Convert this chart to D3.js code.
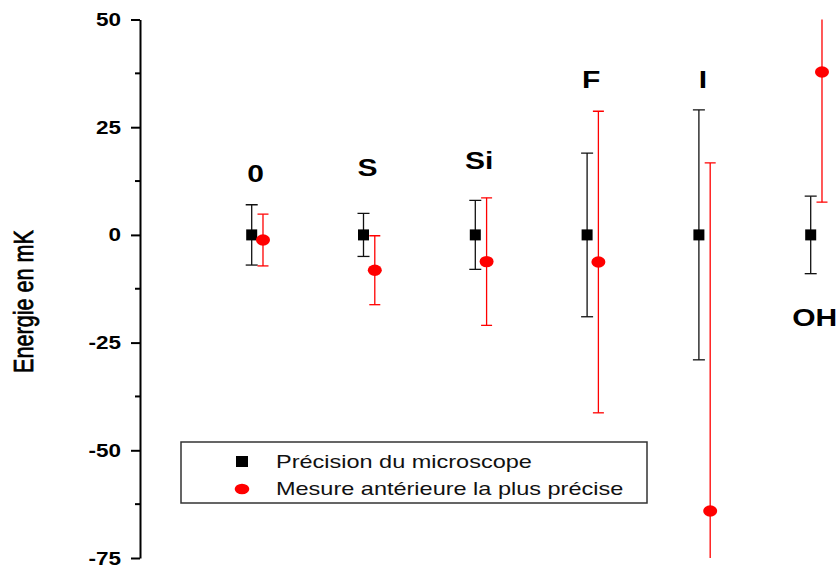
<!DOCTYPE html>
<html><head><meta charset="utf-8">
<script src="https://cdn.jsdelivr.net/npm/d3@7/dist/d3.min.js"></script>
<style>body{margin:0;background:#fff}svg{display:block}text{font-family:Arial,"Liberation Sans",sans-serif}</style>
</head><body>
<svg id="c" width="837" height="567"></svg>
<script>
const categories = ["0","S","Si","F","I","OH"];
const microValues = [0,0,0,0,0,0];
const microErrors = [7,5,8,19,29,9];
const prevValues = [-1.2,-8.2,-6.2,-6.3,-64.1,37.8];
const prevErrors = [6,8,14.8,35,80.8,30.2];
const labelLevels = [12.3,13.7,15.3,34,34.2,-21.2];
const yTicks = [-75,-50,-25,0,25,50];
const yMinorTicks = [-62.5,-37.5,-12.5,12.5,37.5];
const legendLabels = ["Précision du microscope","Mesure antérieure la plus précise"];
const yTitle = "Energie en mK";

const SX = 1.25; // horizontal stretch of the original picture
const svg = d3.select("#c");
const y = d3.scaleLinear().domain([-75,50]).range([558,19.5]);
const x = d3.scaleLinear().domain([0,5]).range([251.7,810.7]);
const offset = 0.101;

svg.append("defs").append("clipPath").attr("id","pc")
  .append("rect").attr("x",141).attr("y",y(50)).attr("width",700).attr("height",y(-75)-y(50));

// Axis
const ax = svg.append("g").attr("transform","translate(140,0)");
ax.call(d3.axisLeft(y).tickValues(yTicks).tickSize(9).tickSizeOuter(0).tickFormat(()=>""));
ax.select(".domain").attr("stroke-width",2);
ax.selectAll(".tick line").attr("stroke-width",2);
ax.append("g").selectAll("line").data(yMinorTicks).join("line")
  .attr("x1",-5).attr("x2",0).attr("y1",d=>y(d)).attr("y2",d=>y(d))
  .attr("stroke","#000").attr("stroke-width",2);
svg.append("g").selectAll("text").data(yTicks).join("text")
  .attr("transform",d=>`translate(121,${y(d)+6.5}) scale(${SX},1)`)
  .attr("text-anchor","end").attr("font-size",18).attr("font-weight","bold")
  .text(d=>d);

svg.append("text").attr("transform",`translate(33,301.5) scale(1.3,1) rotate(-90)`)
  .attr("text-anchor","middle").attr("font-size",21.6)
  .attr("stroke","#000").attr("stroke-width",0.6).text(yTitle);

// error bars
function bars(vals, errs, dx, color, cap){
  const g = svg.append("g").attr("clip-path","url(#pc)").attr("stroke",color).attr("stroke-width",1.3);
  vals.forEach((v,i)=>{
    const cx = x(i+dx), t = y(v+errs[i]), b = y(v-errs[i]);
    g.append("line").attr("x1",cx).attr("x2",cx).attr("y1",t).attr("y2",b);
    g.append("line").attr("x1",cx-cap/2).attr("x2",cx+cap/2).attr("y1",t).attr("y2",t);
    g.append("line").attr("x1",cx-cap/2).attr("x2",cx+cap/2).attr("y1",b).attr("y2",b);
  });
}
bars(microValues, microErrors, 0, "#111", 12);
bars(prevValues, prevErrors, offset, "#ff0000", 11);

svg.append("g").selectAll("rect").data(microValues).join("rect")
  .attr("x",(d,i)=>x(i)-5.5).attr("y",d=>y(d)-5.5).attr("width",11).attr("height",11).attr("fill","#000");
svg.append("g").selectAll("ellipse").data(prevValues).join("ellipse")
  .attr("cx",(d,i)=>x(i+offset)).attr("cy",d=>y(d)).attr("rx",7).attr("ry",5.7).attr("fill","#ff0000");

// category labels
svg.append("g").selectAll("text").data(categories).join("text")
  .attr("transform",(d,i)=>`translate(${x(i+offset*0.35)},${y(labelLevels[i])}) scale(${SX},1)`)
  .attr("text-anchor","middle").attr("font-size",24).attr("font-weight","bold").text(d=>d);

// legend
const lg = svg.append("g");
lg.append("rect").attr("x",181).attr("y",442).attr("width",466).attr("height",61)
  .attr("fill","#fff").attr("stroke","#333").attr("stroke-width",1.5);
lg.append("rect").attr("x",236).attr("y",456).attr("width",12).attr("height",11).attr("fill","#000");
lg.append("ellipse").attr("cx",242).attr("cy",489).attr("rx",7.3).attr("ry",5.2).attr("fill","#ff0000");
lg.selectAll("text.l").data(legendLabels).join("text").attr("class","l")
  .attr("transform",(d,i)=>`translate(276,${468.3+i*26.8}) scale(${SX},1)`)
  .attr("font-size",18.8).attr("fill","#111").text(d=>d);
</script>
</body></html>
